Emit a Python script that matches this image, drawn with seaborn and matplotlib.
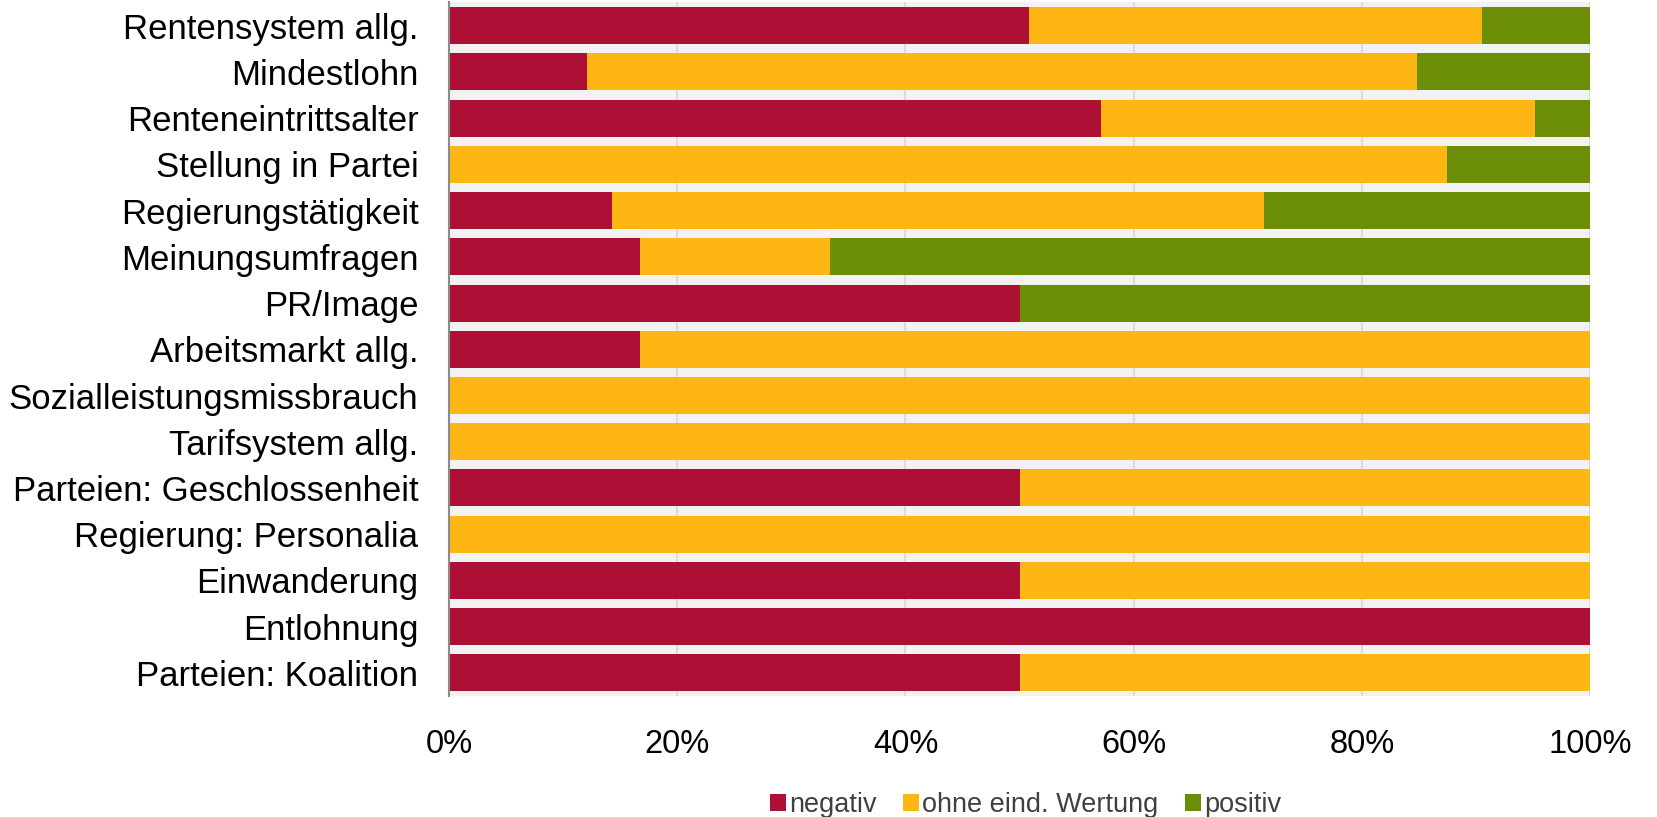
import matplotlib
matplotlib.use("Agg")
import matplotlib.pyplot as plt
import seaborn as sns
import pandas as pd
import numpy as np
from matplotlib.patches import Patch

categories = ["Rentensystem allg.", "Mindestlohn", "Renteneintrittsalter", "Stellung in Partei",
              "Regierungstätigkeit", "Meinungsumfragen", "PR/Image", "Arbeitsmarkt allg.",
              "Sozialleistungsmissbrauch", "Tarifsystem allg.", "Parteien: Geschlossenheit",
              "Regierung: Personalia", "Einwanderung", "Entlohnung", "Parteien: Koalition"]
negativ = [50.8, 12.1, 57.1, 0.0, 14.3, 16.7, 50.0, 16.7, 0.0, 0.0, 50.0, 0.0, 50.0, 100.0, 50.0]
ohne = [39.7, 72.7, 38.1, 87.5, 57.1, 16.7, 0.0, 83.3, 100.0, 100.0, 50.0, 100.0, 50.0, 0.0, 50.0]
positiv = [9.5, 15.2, 4.8, 12.5, 28.6, 66.6, 50.0, 0.0, 0.0, 0.0, 0.0, 0.0, 0.0, 0.0, 0.0]
series_names = ["negativ", "ohne eind. Wertung", "positiv"]
xticks = [0, 20, 40, 60, 80, 100]
xticklabels = ["0%", "20%", "40%", "60%", "80%", "100%"]

colors = ["#AE1035", "#FDB614", "#6B8E06"]

sns.set_theme(style="white")
plt.rcParams["font.family"] = ["Liberation Sans", "DejaVu Sans"]

df = pd.DataFrame({"cat": categories, "neg": negativ, "ohne": ohne, "pos": positiv})
df["c1"] = df["neg"]
df["c2"] = df["neg"] + df["ohne"]
df["c3"] = df["neg"] + df["ohne"] + df["pos"]

fig = plt.figure(figsize=(16.57, 8.17), dpi=100)
ax = fig.add_axes([0.271, 0.148, 0.6886, 0.849])
ax.set_facecolor("#F2F2F2")

for col, c in zip(["c3", "c2", "c1"], colors[::-1]):
    sns.barplot(data=df, x=col, y="cat", orient="h", color=c, width=0.8,
                saturation=1, linewidth=0, ax=ax, order=categories)

ax.set_xlim(0, 100)
ax.set_ylim(len(categories) - 0.5, -0.5)
ax.set_xticks(xticks)
ax.set_xticklabels(xticklabels)
ax.set_xlabel("")
ax.set_ylabel("")
ax.xaxis.grid(True, color="#DCDCDC", linewidth=1.5)
ax.yaxis.grid(False)
ax.set_axisbelow(True)
for s in ["top", "right", "bottom"]:
    ax.spines[s].set_visible(False)
ax.spines["left"].set_color("#8C8C8C")
ax.spines["left"].set_linewidth(1.5)
ax.tick_params(axis="y", length=0, pad=22, labelsize=25, labelcolor="black")
ax.tick_params(axis="x", length=0, pad=24, labelsize=23.5, labelcolor="black")

handles = [Patch(facecolor=c, edgecolor="none", label=n) for c, n in zip(colors, series_names)]
leg = fig.legend(handles=handles, loc="center", bbox_to_anchor=(0.619, 0.0145), ncol=3,
                 frameon=False, fontsize=19.5, handlelength=0.57, handleheight=0.57,
                 handletextpad=0.12, columnspacing=1.0, borderpad=0, borderaxespad=0)
for t in leg.get_texts():
    t.set_color("#404040")

fig.savefig("out.png", dpi=100)
